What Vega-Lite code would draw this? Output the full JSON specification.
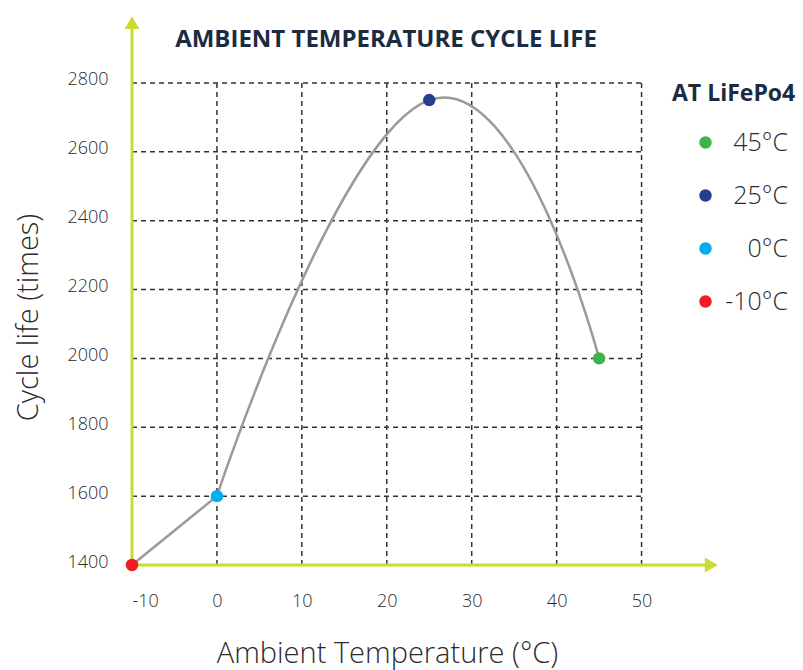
{
  "$schema": "https://vega.github.io/schema/vega-lite/v6.json",
  "width": 586,
  "height": 551,
  "autosize": {"type": "none"},
  "padding": {"left": 132, "top": 14, "right": 85, "bottom": 105},
  "background": "white",
  "title": {
    "text": "AMBIENT TEMPERATURE CYCLE LIFE",
    "font": "Open Sans",
    "fontSize": 24,
    "fontWeight": "bold",
    "color": "#1c2b3f",
    "anchor": "middle",
    "frame": "group",
    "dx": -39,
    "dy": 42
  },
  "datasets": {
    "pts": [
      {"temp": -10, "life": 1400, "label": "-10°C"},
      {"temp": 0, "life": 1600, "label": "0°C"},
      {"temp": 25, "life": 2750, "label": "25°C"},
      {"temp": 45, "life": 2000, "label": "45°C"}
    ],
    "vgrid": [{"temp": 0}, {"temp": 10}, {"temp": 20}, {"temp": 30}, {"temp": 40}, {"temp": 50}],
    "hgrid": [{"life": 1600}, {"life": 1800}, {"life": 2000}, {"life": 2200}, {"life": 2400}, {"life": 2600}, {"life": 2800}]
  },
  "layer": [
    {
      "data": {"name": "vgrid"},
      "mark": {"type": "rule", "color": "#333333", "strokeWidth": 1.5, "strokeDash": [5, 4]},
      "encoding": {
        "x": {"field": "temp", "type": "quantitative", "scale": {"domain": [-10, 59], "nice": false, "zero": false}},
        "y": {"datum": 1400, "type": "quantitative", "scale": {"domain": [1400, 3000], "nice": false, "zero": false}},
        "y2": {"datum": 2800}
      }
    },
    {
      "data": {"name": "hgrid"},
      "mark": {"type": "rule", "color": "#333333", "strokeWidth": 1.5, "strokeDash": [5, 4]},
      "encoding": {
        "y": {"field": "life", "type": "quantitative"},
        "x": {"datum": -10, "type": "quantitative"},
        "x2": {"datum": 50}
      }
    },
    {
      "data": {"values": [{}]},
      "mark": {"type": "rule", "color": "#cbdb2f", "strokeWidth": 3},
      "encoding": {
        "x": {"datum": -10, "type": "quantitative"},
        "y": {"datum": 1400, "type": "quantitative"},
        "y2": {"datum": 2980}
      }
    },
    {
      "data": {"values": [{}]},
      "mark": {"type": "rule", "color": "#cbdb2f", "strokeWidth": 3},
      "encoding": {
        "x": {"datum": -10, "type": "quantitative"},
        "x2": {"datum": 57.5},
        "y": {"datum": 1400, "type": "quantitative"}
      }
    },
    {
      "data": {"values": [{}]},
      "mark": {"type": "point", "shape": "triangle-up", "filled": true, "color": "#cbdb2f", "opacity": 1, "size": 220},
      "encoding": {
        "x": {"datum": -10, "type": "quantitative"},
        "y": {"datum": 2975, "type": "quantitative"}
      }
    },
    {
      "data": {"values": [{}]},
      "mark": {"type": "point", "shape": "triangle-right", "filled": true, "color": "#cbdb2f", "opacity": 1, "size": 220},
      "encoding": {
        "x": {"datum": 58.2, "type": "quantitative"},
        "y": {"datum": 1400, "type": "quantitative"}
      }
    },
    {
      "data": {"name": "pts"},
      "transform": [{"filter": "datum.temp <= 0"}],
      "mark": {"type": "line", "color": "#9a9a9a", "strokeWidth": 2.5, "interpolate": "linear"},
      "encoding": {
        "x": {"field": "temp", "type": "quantitative"},
        "y": {"field": "life", "type": "quantitative"}
      }
    },
    {
      "data": {"name": "pts"},
      "transform": [{"filter": "datum.temp >= 0"}],
      "mark": {"type": "line", "color": "#9a9a9a", "strokeWidth": 2.5, "interpolate": "cardinal", "tension": -0.45},
      "encoding": {
        "x": {"field": "temp", "type": "quantitative"},
        "y": {"field": "life", "type": "quantitative"}
      }
    },
    {
      "data": {"name": "pts"},
      "mark": {"type": "point", "filled": true, "opacity": 1, "size": 155, "shape": "circle"},
      "encoding": {
        "x": {"field": "temp", "type": "quantitative",
          "axis": {
            "values": [-10, 0, 10, 20, 30, 40, 50],
            "labelExpr": "'' + datum.value",
            "labelPadding": 27,
            "title": "Ambient Temperature (°C)",
            "titleX": 255, "titleY": 88
          }},
        "y": {"field": "life", "type": "quantitative",
          "axis": {
            "values": [1400, 1600, 1800, 2000, 2200, 2400, 2600, 2800],
            "labelExpr": "'' + datum.value",
            "labelPadding": 24, "labelOffset": -3,
            "title": "Cycle life (times)",
            "titleX": -104, "titleY": 303, "titleAngle": -90
          }},
        "color": {
          "field": "label", "type": "nominal",
          "scale": {"domain": ["45°C", "25°C", "0°C", "-10°C"], "range": ["#3cb44a", "#22408c", "#00aeef", "#ee1c25"]},
          "legend": {
            "title": "AT LiFePo4",
            "orient": "none", "legendX": 540, "legendY": 69,
            "padding": 0,
            "titleFont": "Open Sans", "titleFontSize": 23, "titleFontWeight": "bold", "titleColor": "#1c2b3f",
            "titleBaseline": "top", "titlePadding": 24,
            "labelFont": "Open Sans", "labelFontSize": 25, "labelFontWeight": 300, "labelColor": "#2b2b2b",
            "labelAlign": "right", "labelOffset": 70, "labelLimit": 200,
            "symbolType": "circle", "symbolSize": 155, "symbolOffset": 21, "symbolStrokeWidth": 0,
            "rowPadding": 27
          }
        }
      }
    }
  ],
  "config": {
    "view": {"stroke": null},
    "axis": {
      "domain": false, "ticks": false, "grid": false,
      "labelFont": "Open Sans", "labelFontSize": 18, "labelFontWeight": 300, "labelColor": "#2b2b2b",
      "titleFont": "Open Sans", "titleFontSize": 29, "titleFontWeight": 300, "titleColor": "#2b2b2b",
      "titleBaseline": "middle", "titleAlign": "center"
    }
  }
}
